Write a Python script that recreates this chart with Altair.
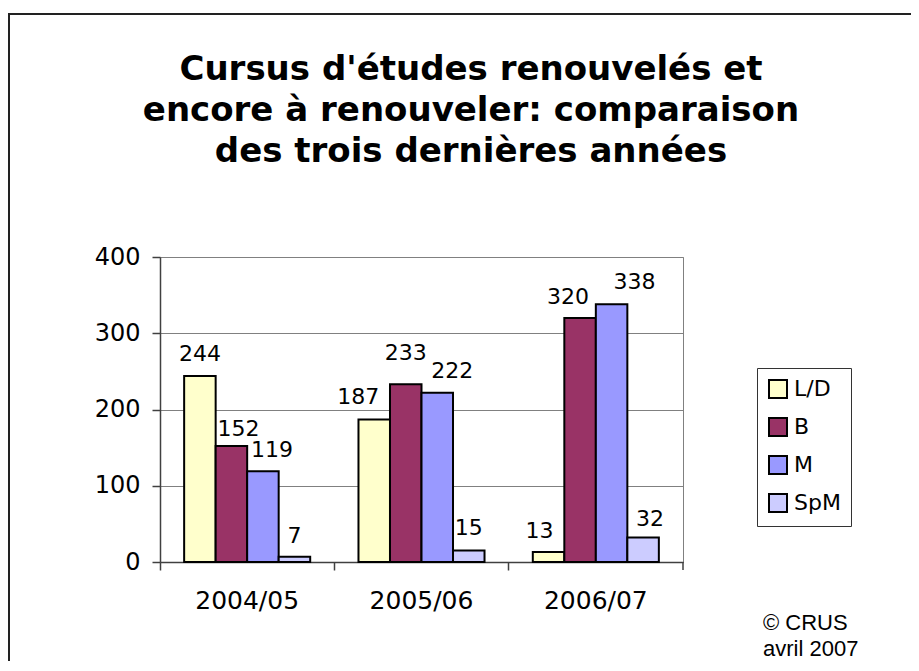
import altair as alt
import pandas as pd

years = ["2004/05", "2005/06", "2006/07"]
cats = ["L/D", "B", "M", "SpM"]
ld = [244, 187, 13]
b = [152, 233, 320]
m = [119, 222, 338]
spm = [7, 15, 32]
colors = ["#FFFFCC", "#993366", "#9999FF", "#CCCCFF"]
y_ticks = [0, 100, 200, 300, 400]
title_lines = ["Cursus d'études renouvelés et",
               "encore à renouveler: comparaison",
               "des trois dernières années"]
note_lines = ["© CRUS", "avril 2007"]

# label nudges (dx, dy) as Excel shifted them to avoid collisions
label_nudge = {
    ("2004/05", "L/D"): (0, -15), ("2004/05", "B"): (7, -10),
    ("2004/05", "M"): (9, -14), ("2004/05", "SpM"): (0, -14),
    ("2005/06", "L/D"): (-16, -15), ("2005/06", "B"): (0, -24),
    ("2005/06", "M"): (15, -15), ("2005/06", "SpM"): (0, -16),
    ("2006/07", "L/D"): (-9, -14), ("2006/07", "B"): (-12, -14),
    ("2006/07", "M"): (23, -15), ("2006/07", "SpM"): (7, -12),
}

rows = []
for cat, vals in zip(cats, [ld, b, m, spm]):
    for yr, v in zip(years, vals):
        rows.append({"year": yr, "cat": cat, "value": v})
df = pd.DataFrame(rows)
one = pd.DataFrame({"k": [0]})

W, H = 523, 305
FONT = "DejaVu Sans"
AX = "#404040"

x = alt.X("year:N", sort=years, title=None,
          scale=alt.Scale(paddingInner=0.277, paddingOuter=0.1385),
          axis=alt.Axis(labelAngle=0, labelFontSize=25, labelFont=FONT, labelColor="black",
                        tickSize=8, bandPosition=-0.19, domainColor=AX, tickColor=AX,
                        labelPadding=18, grid=False, domainWidth=1.5, tickWidth=1.5))
xo = alt.XOffset("cat:N", sort=cats, scale=alt.Scale(paddingInner=0, paddingOuter=0))
y = alt.Y("value:Q", title=None, scale=alt.Scale(domain=[0, 400], nice=False),
          axis=alt.Axis(values=y_ticks, labelFontSize=24, labelFont=FONT, labelColor="black",
                        tickSize=8, domainColor=AX, tickColor=AX, labelPadding=12,
                        grid=True, gridColor="#808080", gridWidth=1, domainWidth=1.5, tickWidth=1.5))
color = alt.Color("cat:N", sort=cats, scale=alt.Scale(domain=cats, range=colors),
                  legend=alt.Legend(orient="none", legendX=597, legendY=111, title=None,
                                    strokeColor="#333333", padding=10, fillColor="white",
                                    symbolType="square", symbolSize=324, symbolStrokeColor="black",
                                    symbolStrokeWidth=2, symbolOpacity=1, labelFontSize=22,
                                    labelFont=FONT, labelColor="black", rowPadding=12, labelOffset=5))

base = alt.Chart(df)
bars = base.mark_bar(stroke="black", strokeWidth=2, opacity=1).encode(x=x, xOffset=xo, y=y, color=color)

# group labels by their nudge and draw one text layer per nudge
groups = {}
for (yr, cat), nd in label_nudge.items():
    groups.setdefault(nd, []).append(yr + "|" + cat)
label_layers = []
for (dx, dy), keys in groups.items():
    label_layers.append(
        base.transform_calculate(key="datum.year + '|' + datum.cat")
        .transform_filter(alt.FieldOneOfPredicate(field="key", oneOf=keys))
        .mark_text(dx=dx, dy=dy, baseline="alphabetic", fontSize=22, font=FONT, color="black")
        .encode(x=x, xOffset=xo, y=y, text="value:Q")
    )

title = alt.Chart(one).mark_text(text=title_lines, align="center", baseline="alphabetic", fontSize=34,
                                 font=FONT, fontWeight="bold", lineHeight=41, color="black").encode(
    x=alt.value(311), y=alt.value(-177))
note = alt.Chart(one).mark_text(text=note_lines, align="left", baseline="alphabetic", fontSize=22,
                                font="Liberation Sans", lineHeight=26, color="black").encode(
    x=alt.value(603), y=alt.value(373))
last_tick = alt.Chart(one).mark_rule(color=AX, strokeWidth=1.5).encode(
    x=alt.value(W), y=alt.value(H), y2=alt.value(H + 8))
top_border = alt.Chart(one).mark_rule(color="#222222", strokeWidth=2).encode(
    x=alt.value(-152), x2=alt.value(751), y=alt.value(-243))
left_border = alt.Chart(one).mark_rule(color="#222222", strokeWidth=2).encode(
    x=alt.value(-151), y=alt.value(-243), y2=alt.value(410))

chart = alt.layer(bars, *label_layers, title, note, last_tick, top_border, left_border).properties(
    width=W, height=H,
    autosize="none",
    padding={"left": 152, "top": 249, "right": 228, "bottom": 99},
    background="white",
).configure_view(stroke="#808080", strokeWidth=1)

chart.save("out.html", embed_options={"renderer": "svg", "actions": False})
